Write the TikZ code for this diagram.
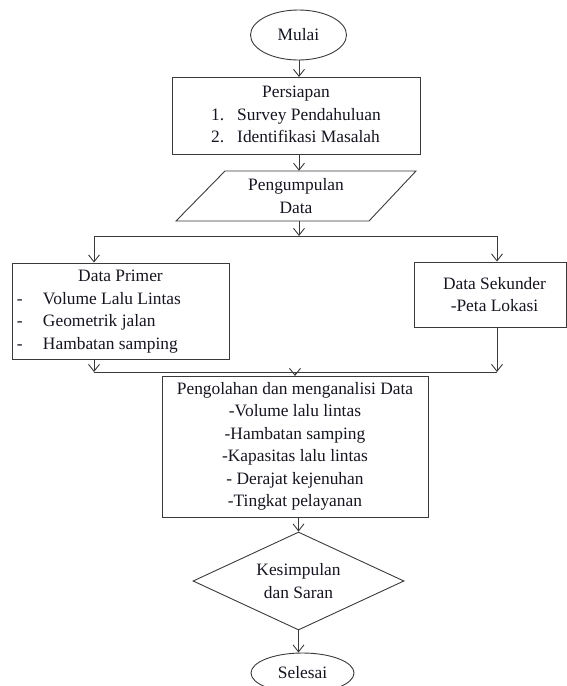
\documentclass[tikz,border=0pt]{standalone}
\usepackage{fontspec}
\setmainfont{Liberation Serif}
\usetikzlibrary{shapes.geometric,arrows.meta,calc}
\definecolor{ln}{HTML}{3A3A3A}
\definecolor{tx}{HTML}{151520}
\begin{document}
\begin{tikzpicture}[x=1pt,y=-1pt,
  every node/.style={text=tx,font=\fontsize{17.4}{22.5}\selectfont},
  box/.style={draw=ln,line width=0.9pt,inner sep=0pt,align=center},
  oval/.style={draw=ln,line width=0.9pt,ellipse,inner sep=0pt},
  lnk/.style={draw=ln,line width=0.9pt},
  arr/.style={lnk,-{Straight Barb[length=7pt,width=11pt,line width=0.9pt]}}]
\useasboundingbox (0,0) rectangle (567,686);
% start
\node[oval,minimum width=96pt,minimum height=50pt] (mulai) at (298.5,35) {Mulai};
% Persiapan
\node[box,minimum width=248pt,minimum height=77pt] (pers) at (296,115.5)
  {\begin{tabular}{@{}p{26pt}@{}l@{}}
   \multicolumn{2}{@{}c@{}}{Persiapan}\\
   1. & Survey Pendahuluan\\
   2. & Identifikasi Masalah
   \end{tabular}};
% Pengumpulan data (parallelogram)
\node[align=center,minimum width=191pt,minimum height=50pt,inner sep=0pt] (peng) at (296,196) {Pengumpulan\\Data};
\draw[lnk] ($(peng.center)+(-120,25)$) -- ($(peng.center)+(73,25)$)
  -- ($(peng.center)+(120,-25)$) -- ($(peng.center)+(-71,-25)$) -- cycle;
% Data primer
\node[box,minimum width=217pt,minimum height=96pt] (dp) at (120.5,311)
  {\begin{tabular}{@{\hspace{5pt}}p{26pt}@{}p{186pt}@{}}
   \multicolumn{2}{@{}c@{}}{Data Primer}\\
   - & Volume Lalu Lintas\\
   - & Geometrik jalan\\
   - & Hambatan samping
   \end{tabular}};
% Data sekunder
\node[box,minimum width=152pt,minimum height=65pt] (ds) at (490,294.5)
  {\hspace*{9pt}Data Sekunder\\\hspace*{9pt}-Peta Lokasi};
% Pengolahan
\node[box,minimum width=266pt,minimum height=141pt] (pol) at (295,446.5)
  {Pengolahan dan menganalisi Data\\-Volume lalu lintas\\-Hambatan samping\\-Kapasitas lalu lintas\\- Derajat kejenuhan\\-Tingkat pelayanan};
% Kesimpulan
\node[draw=ln,line width=0.9pt,diamond,aspect=2.15,minimum width=211pt,minimum height=98pt,inner sep=0pt,align=center] (kes) at (298.5,581) {Kesimpulan\\dan Saran};
% end
\node[oval,minimum width=103pt,minimum height=40pt] (sel) at (302.5,673) {Selesai};
% coordinates
\coordinate (sp) at (299,236);
\coordinate (jl) at (94,236);
\coordinate (jr) at (497,236);
\coordinate (ml) at (94,372);
\coordinate (mr) at (497,372);
% connectors
\draw[arr] (mulai.south -| 299,0) -- (299,77);
\draw[arr] (pers.south -| sp) -- (peng.north -| sp);
\draw[arr] (peng.south -| sp) -- (sp);
\draw[lnk] (jl) -- (jr);
\draw[arr] (jl) -- (jl |- dp.north);
\draw[arr] (jr) -- (jr |- ds.north);
\draw[arr] (dp.south -| ml) -- (ml);
\draw[arr] (ds.south -| mr) -- (mr);
\draw[lnk] (ml) -- (mr);
\draw[arr] (295,372) -- (295,376);
\draw[arr] (pol.south -| kes.north) -- (kes.north);
\draw[arr] (kes.south) -- (sel.north -| kes.south);
\end{tikzpicture}
\end{document}
